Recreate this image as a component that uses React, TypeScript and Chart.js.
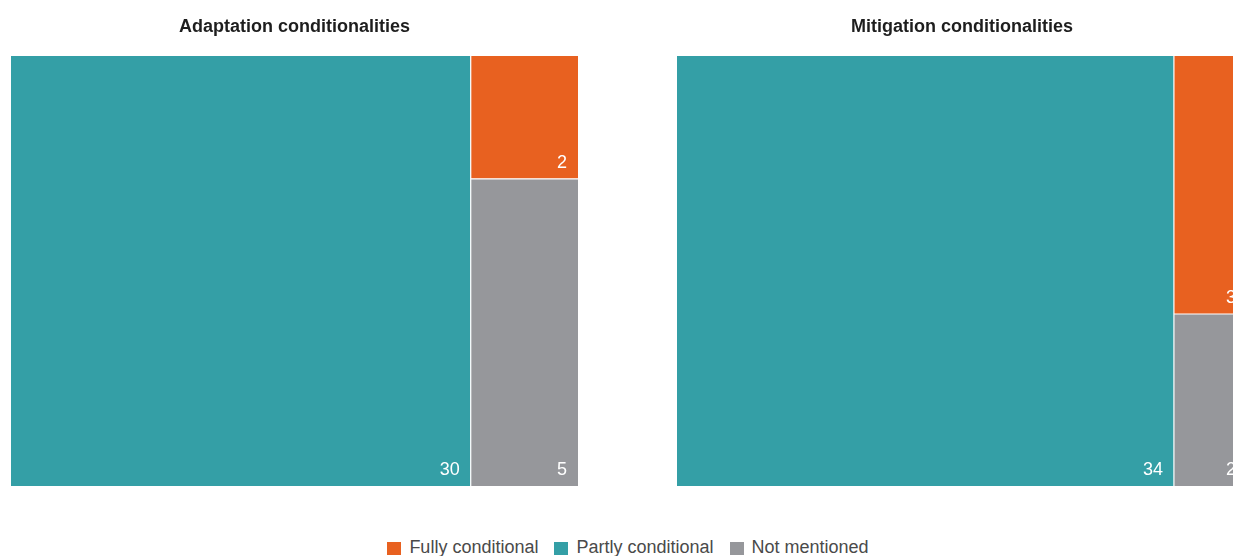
import React, { useEffect, useRef } from "react";
import { Chart, registerables } from "chart.js";

Chart.register(...registerables);

const categories = ["Fully conditional", "Partly conditional", "Not mentioned"];
const categoryColors = ["#E86120", "#349FA6", "#96979B"];
const panelTitles = ["Adaptation conditionalities", "Mitigation conditionalities"];
const adaptationValues = [2, 30, 5];
const mitigationValues = [3, 34, 2];

const FONT = "'Liberation Sans', Arial, Helvetica, sans-serif";

type Rect = { x0: number; x1: number; y0: number; y1: number; value: number; color: string };

function layout(values: number[]): { rects: Rect[]; total: number; split: number; col: number } {
  const [fully, partly, notm] = values;
  const total = fully + partly + notm;
  const col2 = fully + notm;
  const split = notm / col2;
  const rects: Rect[] = [
    { x0: 0, x1: partly, y0: 0, y1: 1, value: partly, color: categoryColors[1] },
    { x0: partly, x1: total, y0: split, y1: 1, value: fully, color: categoryColors[0] },
    { x0: partly, x1: total, y0: 0, y1: split, value: notm, color: categoryColors[2] },
  ];
  return { rects, total, split, col: partly };
}

function Panel({ title, values, left, width, height }: { title: string; values: number[]; left: number; width: number; height: number }) {
  const ref = useRef<HTMLCanvasElement | null>(null);
  useEffect(() => {
    if (!ref.current) return;
    const { rects, total, split, col } = layout(values);
    const separators = [
      { data: [{ x: col, y: 0 }, { x: col, y: 1 }] },
      { data: [{ x: col, y: split }, { x: total, y: split }] },
    ].map((s) => ({
      type: "line" as const,
      data: s.data,
      borderColor: "#ffffff",
      borderWidth: 1.2,
      pointRadius: 0,
      fill: false,
      order: 0,
    }));
    const cells = rects.map((r) => ({
      type: "line" as const,
      data: [{ x: r.x0, y: r.y1 }, { x: r.x1, y: r.y1 }],
      borderWidth: 0,
      borderColor: r.color,
      backgroundColor: r.color,
      pointRadius: 0,
      fill: { value: r.y0 },
      order: 1,
    }));
    const labelPlugin = {
      id: "cellLabels",
      afterDatasetsDraw(chart: any) {
        const { ctx, scales } = chart;
        const xs = scales.x;
        const ys = scales.y;
        ctx.save();
        ctx.fillStyle = "#ffffff";
        ctx.font = `18px ${FONT}`;
        ctx.textAlign = "right";
        ctx.textBaseline = "alphabetic";
        rects.forEach((r) => {
          const px = xs.getPixelForValue(r.x1) - 11;
          const py = ys.getPixelForValue(r.y0) - 11;
          ctx.fillText(String(r.value), px, py);
        });
        ctx.restore();
      },
    };
    const chart = new Chart(ref.current, {
      type: "line",
      data: { datasets: [...separators, ...cells] as any },
      options: {
        animation: false,
        responsive: false,
        maintainAspectRatio: false,
        layout: { padding: 0 },
        scales: {
          x: { type: "linear", min: 0, max: total, display: false, offset: false },
          y: { type: "linear", min: 0, max: 1, display: false },
        },
        plugins: {
          legend: { display: false },
          tooltip: { enabled: false },
          title: {
            display: true,
            text: title,
            color: "#1e1e1e",
            font: { family: FONT, size: 18, weight: "bold", lineHeight: 1.2 },
            padding: { top: 16, bottom: 18.4 },
          },
        },
      },
      plugins: [labelPlugin],
    } as any);
    return () => chart.destroy();
  }, [title, values, width, height]);
  return (
    <canvas
      ref={ref}
      width={width}
      height={height}
      style={{ position: "absolute", left, top: 0, width, height, display: "block" }}
    />
  );
}

export default function App() {
  const legendOrder = [0, 1, 2];
  return (
    <div
      style={{
        position: "fixed",
        left: 0,
        top: 0,
        width: 1233,
        height: 556,
        overflow: "hidden",
        background: "#ffffff",
      }}
    >
      <Panel title={panelTitles[0]} values={adaptationValues} left={11} width={567} height={486} />
      <Panel title={panelTitles[1]} values={mitigationValues} left={677} width={570} height={486} />
      <div
        style={{
          position: "absolute",
          left: 0,
          top: 537,
          width: 1256,
          display: "flex",
          justifyContent: "center",
          alignItems: "center",
          fontFamily: FONT,
          fontSize: 18,
          lineHeight: "20px",
          color: "#4a4a4a",
          whiteSpace: "nowrap",
        }}
      >
        {legendOrder.map((i, k) => (
          <div key={i} style={{ display: "flex", alignItems: "center", marginLeft: k === 0 ? 0 : 16 }}>
            <span
              style={{
                display: "inline-block",
                width: 14,
                height: 13,
                background: categoryColors[i],
                marginRight: 8,
                marginTop: 3,
              }}
            />
            <span>{categories[i]}</span>
          </div>
        ))}
      </div>
    </div>
  );
}
